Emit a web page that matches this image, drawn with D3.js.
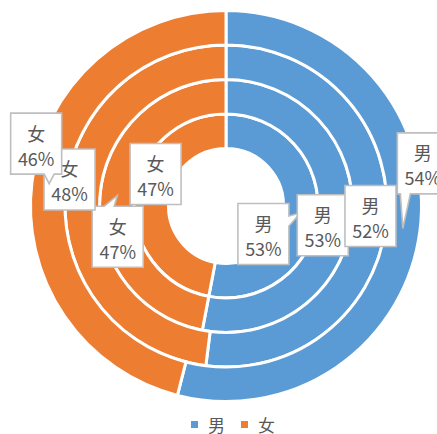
<!DOCTYPE html>
<html>
<head>
<meta charset="utf-8">
<script src="https://cdn.jsdelivr.net/npm/d3@7/dist/d3.min.js"></script>
<style>
  html, body { margin: 0; padding: 0; background: #fff; }
  svg { display: block; }
  text { font-family: "Noto Sans CJK SC", "Noto Sans", sans-serif; fill: #595959; }
</style>
</head>
<body>
<script>
// ---- data ----
const categories = ["男", "女"];
// series from inner ring to outer ring
const ring1 = [53, 47];
const ring2 = [53, 47];
const ring3 = [52, 48];
const ring4 = [54, 46];
const seriesList = [ring1, ring2, ring3, ring4];
const colors = ["#5B9BD5", "#ED7D31"];

// ---- layout (label box offsets from slice centroid, per ring/category) ----
const labelOffsets = [
  [[-37, 21], [4, -25]],
  [[-12, 9], [0.5, 41]],
  [[1, 1], [-13, -17.5]],
  [[20, -65], [-13, -40]]
];

const W = 437, H = 434;
const cx = 226, cy = 206;
const rScale = d3.scaleLinear().domain([0, seriesList.length]).range([57.5, 195.5]);

const svg = d3.select("body").append("svg").attr("width", W).attr("height", H);
const g = svg.append("g").attr("transform", `translate(${cx},${cy})`);

const pie = d3.pie().sort(null).value(d => d);

const ringData = seriesList.map((vals, i) => {
  const total = d3.sum(vals);
  return pie(vals).map((p, j) => ({ ...p, ring: i, cat: j, pct: Math.round(vals[j] / total * 100) }));
});

// slices
ringData.forEach((slices, i) => {
  const arc = d3.arc().innerRadius(rScale(i)).outerRadius(rScale(i + 1));
  g.selectAll(null).data(slices).enter().append("path")
    .attr("d", arc)
    .attr("fill", d => colors[d.cat])
    .attr("stroke", "#fff")
    .attr("stroke-width", 3)
    .attr("stroke-linejoin", "miter");
});

// labels (drawn inner ring first, then outer)
const bw = 51, bh = 61;
ringData.forEach((slices, i) => {
  const mid = (rScale(i) + rScale(i + 1)) / 2;
  const carc = d3.arc().innerRadius(mid).outerRadius(mid);
  slices.forEach(d => {
    const [tx, ty] = carc.centroid(d);
    const off = labelOffsets[i][d.cat];
    const bx = tx + off[0], by = ty + off[1];
    const L = bx - bw / 2, R = bx + bw / 2, T = by - bh / 2, B = by + bh / 2;
    let path;
    const hw = 5;
    if (ty > B) {
      const c = Math.max(L + 8, Math.min(R - 8, tx));
      path = `M${L},${T}H${R}V${B}H${c + hw}L${tx},${ty}L${c - hw},${B}H${L}Z`;
    } else if (ty < T) {
      const c = Math.max(L + 8, Math.min(R - 8, tx - 8));
      path = `M${L},${T}H${c - hw}L${tx},${ty}L${c + hw},${T}H${R}V${B}H${L}Z`;
    } else if (tx > R) {
      const c = Math.max(T + 8, Math.min(B - 8, ty + 8));
      path = `M${L},${T}H${R}V${c - hw}L${tx},${ty}L${R},${c + hw}V${B}H${L}Z`;
    } else if (tx < L) {
      const c = Math.max(T + 8, Math.min(B - 8, ty));
      path = `M${L},${T}H${R}V${B}H${L}V${c + hw}L${tx},${ty}L${L},${c - hw}Z`;
    } else {
      path = `M${L},${T}H${R}V${B}H${L}Z`;
    }
    const lg = g.append("g");
    lg.append("path").attr("d", path)
      .attr("fill", "#fff").attr("stroke", "#BFBFBF").attr("stroke-width", 1.6)
      .attr("stroke-linejoin", "miter");
    lg.append("text").attr("x", bx).attr("y", T + 19.5)
      .attr("text-anchor", "middle").attr("dominant-baseline", "central")
      .attr("font-size", 18).text(categories[d.cat]);
    lg.append("text").attr("x", bx).attr("y", T + 44.5)
      .attr("text-anchor", "middle").attr("dominant-baseline", "central")
      .attr("font-size", 18).text(d.pct + "%");
  });
});

// legend
const legend = svg.append("g");
const legX = [191, 241];
categories.forEach((c, j) => {
  legend.append("rect").attr("x", legX[j]).attr("y", 421).attr("width", 7).attr("height", 7)
    .attr("fill", colors[j]);
  legend.append("text").attr("x", legX[j] + 17).attr("y", 424)
    .attr("dominant-baseline", "central").attr("font-size", 17).text(c);
});
</script>
</body>
</html>
